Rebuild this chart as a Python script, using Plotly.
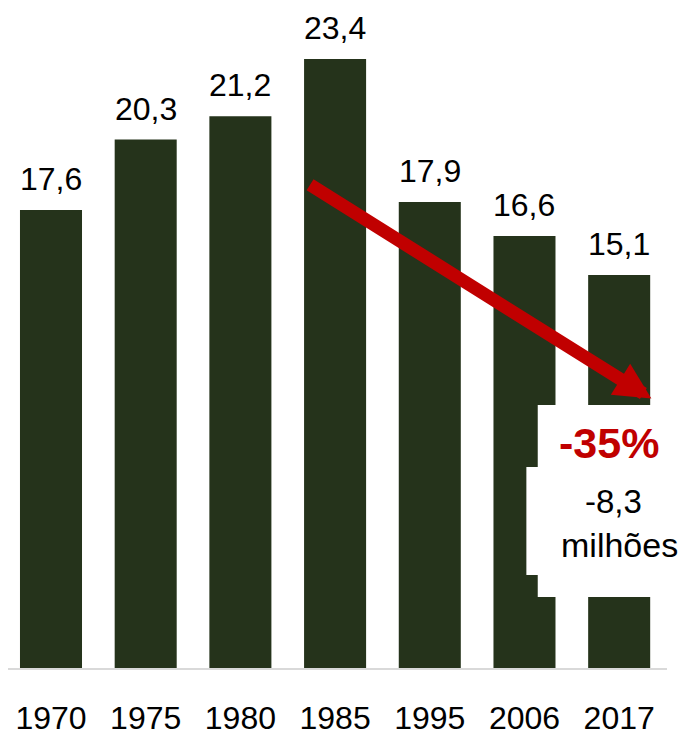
import plotly.graph_objects as go

years = ["1970", "1975", "1980", "1985", "1995", "2006", "2017"]
values = [17.6, 20.3, 21.2, 23.4, 17.9, 16.6, 15.1]
value_labels = ["17,6", "20,3", "21,2", "23,4", "17,9", "16,6", "15,1"]
change_pct = "-35%"
change_abs = "-8,3"
change_unit = "milhões"

BAR = "#25331B"
RED = "#C00000"
FONT = "Liberation Sans, Arial, sans-serif"

fig = go.Figure()
fig.add_trace(go.Bar(x=years, y=values, marker=dict(color=BAR, line=dict(width=0)),
                     hoverinfo="skip", cliponaxis=False))

annotations = []
for i, (v, lab) in enumerate(zip(values, value_labels)):
    annotations.append(dict(x=i, y=v, xref="x", yref="y", text=lab, showarrow=False,
                            yanchor="bottom", yshift=11,
                            font=dict(family=FONT, size=32, color="black")))

# red trend arrow
annotations.append(dict(x=6.34, y=10.35, ax=2.72, ay=18.6, xref="x", yref="y",
                        axref="x", ayref="y", text="", showarrow=True,
                        arrowhead=2, arrowsize=0.56, arrowwidth=13, arrowcolor=RED,
                        standoff=0, startstandoff=0))
# callout text
annotations.append(dict(x=5.89, xref="x", y=8.64, yref="y",
                        text="<b>" + change_pct + "</b>", showarrow=False,
                        font=dict(family=FONT, size=43, color=RED)))
annotations.append(dict(x=5.94, xref="x", y=6.38, yref="y",
                        text=change_abs, showarrow=False,
                        font=dict(family=FONT, size=33, color="black")))
annotations.append(dict(x=6.0, xref="x", y=4.73, yref="y",
                        text=change_unit, showarrow=False,
                        font=dict(family=FONT, size=34, color="black")))

shapes = [
    dict(type="rect", xref="x", yref="y", x0=5.14, x1=7.5, y0=2.73, y1=10.1,
         fillcolor="white", line=dict(width=0), layer="above"),
    dict(type="rect", xref="x", yref="y", x0=5.02, x1=7.5, y0=3.57, y1=7.72,
         fillcolor="white", line=dict(width=0), layer="above"),
]

fig.update_layout(
    width=687, height=733,
    margin=dict(l=0, r=28, t=2, b=73),
    paper_bgcolor="white", plot_bgcolor="white",
    bargap=0.345,
    showlegend=False,
    annotations=annotations,
    shapes=shapes,
    xaxis=dict(type="category", range=[-0.454, 6.505], showgrid=False, zeroline=False,
               showline=True, linecolor="#D9D9D9", linewidth=2,
               ticks="outside", ticklen=21, tickcolor="rgba(0,0,0,0)",
               tickfont=dict(family=FONT, size=32, color="black"), fixedrange=True),
    yaxis=dict(range=[0, 25.28], showgrid=False, zeroline=False, showticklabels=False,
               showline=False, fixedrange=True),
)

fig.write_html("out.html")
